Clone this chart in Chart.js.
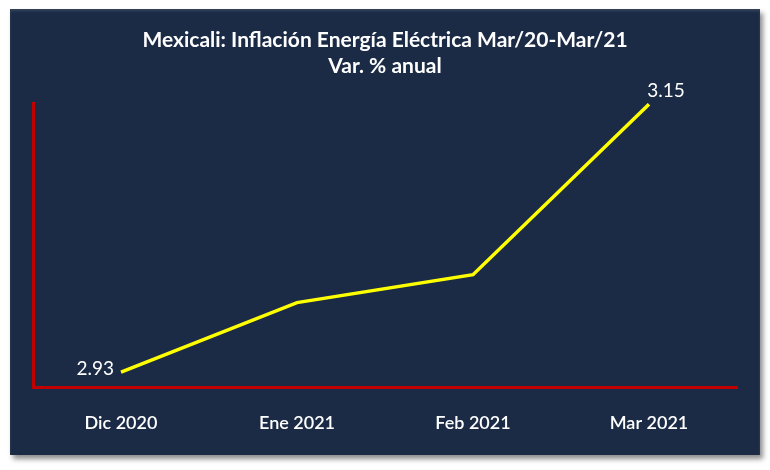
<!DOCTYPE html>
<html>
<head>
<meta charset="utf-8">
<script src="https://cdn.jsdelivr.net/npm/chart.js@4.4.1/dist/chart.umd.min.js"></script>
<style>
  html, body { margin: 0; padding: 0; background: #ffffff; }
  #panel {
    position: absolute; left: 10px; top: 9px; width: 750px; height: 446px;
    background: #1b2b46;
    box-shadow: 3px 4px 5px rgba(0,0,0,0.45), inset 0 2px 3px rgba(255,255,255,0.12);
  }
  canvas { display: block; }
</style>
</head>
<body>
<div id="panel"><canvas id="chart" width="750" height="446"></canvas></div>
<script>
// --- Dati ---
const categories = ['Dic 2020', 'Ene 2021', 'Feb 2021', 'Mar 2021'];
const inflation = [2.93, 2.987, 3.01, 3.15];
const pointLabels = ['2.93', '', '', '3.15'];
const titleLines = ['Mexicali: Inflación Energía Eléctrica Mar/20-Mar/21', 'Var. % anual'];

const FONT = 'Lato, "Open Sans", sans-serif';

// titolo disegnato a mano
const titlePlugin = {
  id: 'titolo',
  afterDraw(chart) {
    const c = chart.ctx;
    c.save();
    c.fillStyle = '#ffffff';
    c.font = 'bold 21px ' + FONT;
    c.textAlign = 'center';
    c.textBaseline = 'middle';
    c.fillText(titleLines[0], chart.width / 2, 31);
    c.fillText(titleLines[1], chart.width / 2, 57);
    c.restore();
  }
};

// etichette dei valori (solo primo e ultimo punto)
const labelPlugin = {
  id: 'etichette',
  afterDatasetsDraw(chart) {
    const c = chart.ctx;
    const pts = chart.getDatasetMeta(0).data;
    c.save();
    c.fillStyle = '#ffffff';
    c.font = '19px ' + FONT;
    c.textBaseline = 'middle';
    pts.forEach((p, i) => {
      const txt = pointLabels[i];
      if (!txt) return;
      if (i === 0) {
        c.textAlign = 'right';
        c.fillText(txt, p.x - 7, p.y - 3);
      } else {
        c.textAlign = 'center';
        c.fillText(txt, p.x + 17, p.y - 13);
      }
    });
    c.restore();
  }
};

new Chart(document.getElementById('chart').getContext('2d'), {
  type: 'line',
  data: {
    labels: categories,
    datasets: [{
      data: inflation,
      borderColor: '#ffff00',
      borderWidth: 3.5,
      pointRadius: 0,
      tension: 0,
      fill: false
    }]
  },
  options: {
    responsive: false,
    animation: false,
    layout: { padding: { left: 23, right: 23, top: 94, bottom: 0 } },
    plugins: { legend: { display: false }, tooltip: { enabled: false } },
    scales: {
      x: {
        offset: true,
        grid: { display: false },
        border: { color: '#c00000', width: 3 },
        ticks: { color: '#ffffff', font: { family: FONT, size: 18, weight: '600' }, padding: 17, maxRotation: 0 },
        afterFit: s => { s.height = 68; }
      },
      y: {
        min: 2.9177,
        max: 3.151,
        grid: { display: false },
        border: { color: '#c00000', width: 3 },
        ticks: { display: false },
        afterFit: s => { s.width = 0; }
      }
    }
  },
  plugins: [titlePlugin, labelPlugin]
});
</script>
</body>
</html>
